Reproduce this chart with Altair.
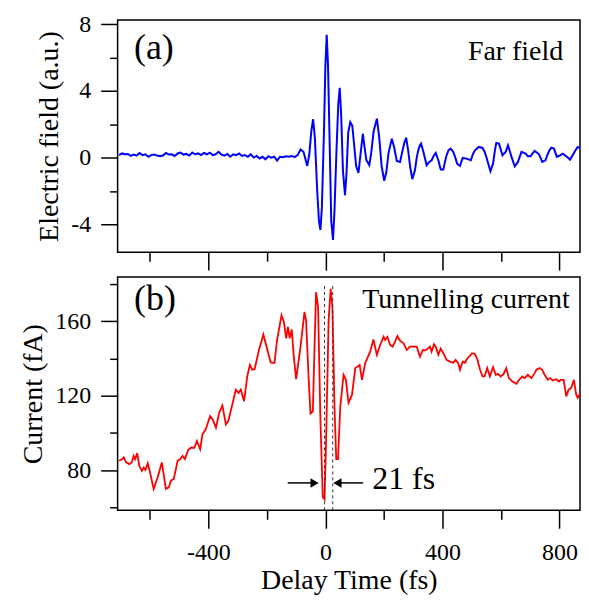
import altair as alt
import pandas as pd

# ---------------- data ----------------
field_t = [-705, -695, -685, -675, -665, -655, -645, -635, -625, -615, -605, -595, -585, -575,
           -565, -555, -545, -535, -525, -515, -505, -495, -485, -475, -465, -455, -445, -435,
           -425, -415, -405, -395, -385, -375, -365, -355, -345, -335, -325, -315, -305, -295,
           -285, -275, -265, -255, -245, -235, -225, -215, -205, -195, -185, -175, -165, -155,
           -145, -135, -125, -115, -105,
           -95, -85, -75, -68, -62, -55, -48, -42, -36, -28, -22, -17, -12, -5, 0, 4.5, 9, 15,
           20, 26, 31, 38, 44, 49, 54, 60, 67, 72, 78, 85, 92, 98, 105, 113, 120, 128, 134, 140,
           144, 150, 156, 165, 176, 184, 192, 201, 208, 216, 227, 235, 244, 255, 262, 270, 276,
           283, 290, 297, 306, 312, 318, 323, 327, 335, 346, 355, 363, 370, 377, 386, 394, 403,
           408, 414, 421, 428, 437, 444, 450, 460, 469, 482, 497, 504, 511, 524, 537, 544, 550,
           557, 564, 573, 579, 584, 593, 599, 605, 616, 624, 630, 636, 647, 658, 664, 670, 684,
           692, 701, 708, 715, 730, 741, 752, 758, 766, 772, 781, 791, 802, 811, 823, 836, 845,
           853, 862, 874, 885, 893]
field_v = [0.15, 0.25, 0.2, 0.22, 0.1, 0.18, 0.12, 0.28, 0.15, 0.2, 0.05, 0.15, 0.18, 0.12,
           0.08, 0.12, 0.28, 0.18, 0.2, 0.1, 0.25, 0.3, 0.18, 0.22, 0.12, 0.3, 0.2, 0.25,
           0.15, 0.28, 0.2, 0.3, 0.15, 0.2, 0.35, 0.18, 0.12, 0.22, 0.05, 0.2, 0.15, 0.25,
           0.1, 0.15, 0.05, 0.2, 0.0, 0.1, -0.05, 0.05, -0.1, 0.08, 0.0, 0.05, -0.18, 0.05,
           0.02, 0.08, 0.05, 0.1, 0.03,
           0.15, 0.48, 0.35, -0.1, -0.5, 0.2, 1.6, 2.3, 1.2, -2.0, -3.8, -4.34, -3.0, 1.5, 5.5, 7.36, 5.5, 0.5,
           -3.8, -4.94, -3.2, 0.5, 3.2, 4.18, 2.5, -0.8, -2.25, -1.0, 1.5, 2.13, 1.9, 0.8, -0.5, -0.92, 0.2, 1.43, 0.6, -0.15,
           -0.26, -0.45, 0.2, 1.6, 2.33, 1.2, -0.5, -1.39, -0.9, 0.3, 1.13, 0.6, -0.2, -0.26, 0.3, 0.9, 1.19,
           0.4, -0.6, -1.29, -0.76, 0.0, 0.48, 0.73, 0.84, 0.34, -0.46, -0.26, -0.16, 0.1, 0.28, -0.16, -0.72, -0.72,
           -0.3, 0.14, 0.45, 0.54, 0.34, 0.0, -0.36, -0.5, -0.02, -0.06, -0.16, 0.2, 0.44, 0.64, 0.58, 0.35, 0.04,
           -0.4, -0.82, -0.36, 0.4, 0.88, 0.84, 0.5, 0.14, 0.34, 0.73, 0.4, 0.04, -0.52, -0.26, 0.05, 0.34, 0.24,
           0.08, 0.08, 0.25, 0.4, 0.2, -0.26, -0.16, 0.14, 0.45, 0.6, 0.54, 0.04, 0.14, 0.24, 0.08, -0.12, 0.14,
           0.4, 0.64, 0.54, 0.44, 0.28]

current_t = [-705, -694, -689, -681, -670, -662, -655, -650, -643, -636, -627, -621, -615, -607,
             -598, -587, -573, -559, -545, -535, -528, -518, -505, -496, -488, -480, -469, -460,
             -448, -439, -428, -420, -409, -394, -385, -374, -363, -352, -340, -332, -321, -306,
             -297, -289, -278, -267, -258, -250, -242, -227, -212, -201, -187, -178, -174, -165,
             -150, -142, -134, -128, -122, -115, -108, -100, -85, -71.5, -66, -57, -51, -43, -32,
             -25, -17, -9, -3, 2, 11, 18, 24, 31, 37, 43, 51, 62, 70, 79, 91, 102, 110, 117, 125,
             136, 153, 164, 176, 187, 199, 204, 212, 221, 230, 238, 246, 255, 267, 278, 289, 301,
             312, 323, 333, 341, 348, 357, 363, 371, 377, 386, 394, 403, 414, 426, 437, 445, 454,
             460, 469, 477, 485, 494, 501, 510, 519, 528, 537, 544, 553, 562, 573, 582, 590, 599,
             609, 618, 627, 639, 653, 662, 673, 681, 692, 704, 715, 721, 732, 741, 749, 760, 768,
             777, 789, 798, 805, 814, 823, 831, 840, 849, 857, 862, 870, 879, 891]
current_v = [85.0, 85.9, 86.8, 84.1, 83.2, 84.1, 87.6, 85.9, 89.1, 82.3, 79.6, 81.3, 80.1, 83.7,
             77.9, 69.9, 76.1, 84.1, 69.9, 70.7, 74.3, 75.2, 85.0, 85.9, 87.6, 85.9, 90.8, 92.0,
             92.0, 95.6, 91.2, 99.2, 101.9, 109.0, 107.2, 102.8, 110.8, 114.7, 104.5, 106.3, 113.4, 123.2,
             121.4, 123.2, 117.0, 130.3, 136.5, 133.9, 134.2, 144.5, 152.9, 146.3, 137.8, 137.6, 137.6, 150.0,
             163.2, 159.6, 150.8, 157.0, 150.8, 155.6, 141.0, 128.9, 146.3, 165.0, 160.2, 128.5, 110.4, 111.6, 175.6,
             167.6, 107.2, 65.4, 64.2, 93.0, 160.5, 177.4, 167.6, 114.3, 85.9, 85.9, 114.3, 131.2, 128.5, 116.1, 120.5, 134.8, 135.6, 136.5, 128.5,
             137.4, 143.6, 150.2, 141.9, 147.2, 151.6, 149.9, 151.6, 147.2, 146.3, 149.0, 152.0, 149.5, 148.1, 144.5, 146.3, 146.3,
             146.3, 141.0, 144.5, 144.3, 145.0, 146.3, 143.6, 147.6, 146.3, 141.9, 145.3, 142.8, 139.2, 138.3, 137.7, 139.2, 137.4,
             133.9, 138.3, 137.7, 140.1, 141.3, 142.8, 142.5, 139.6, 134.2, 130.3, 130.3, 134.8, 130.3, 135.3, 131.2, 131.7, 130.3,
             131.7, 134.8, 129.4, 127.6, 126.4, 128.5, 130.3, 129.4, 131.2, 129.4, 132.1, 133.9, 134.8, 133.9, 131.2, 128.5, 129.4,
             128.1, 128.8, 127.6, 128.5, 128.5, 119.6, 123.2, 124.1, 128.5, 120.5, 118.8, 121.1, 119.6, 119.3]

x_ticks = [-600, -400, -200, 0, 200, 400, 600, 800]
field_ticks = [-4, -2, 0, 2, 4, 6, 8]
current_ticks = [60, 80, 100, 120, 140, 160, 180]

x_domain = [-710, 870]
field_domain = [-5.67, 8.25]
current_domain = [58.4, 183.7]

dash_t = [-3, 25]
dash_top = 180
arrow_y = 73.1
arrow_tail = [-129, 129]
arrow_head = [-37, 41]

FONT = "Liberation Serif"
W = 464


def tick_cond(step, major, minor):
    return {"condition": {"test": f"datum.value % {step} === 0", "value": major}, "value": minor}


def lab_expr(step):
    return f"datum.value % {step} === 0 ? '' + datum.value : ''"


xscale = alt.Scale(domain=x_domain, nice=False, zero=False)
fscale = alt.Scale(domain=field_domain, nice=False, zero=False)
cscale = alt.Scale(domain=current_domain, nice=False, zero=False)

X_TOP = alt.X("t:Q", scale=xscale, title=None,
              axis=alt.Axis(values=x_ticks, labels=False, title=None,
                            tickSize=tick_cond(400, 18, 9)))
X_BOT = alt.X("t:Q", scale=xscale, title="Delay Time (fs)",
              axis=alt.Axis(values=x_ticks, labelExpr=lab_expr(400), title="Delay Time (fs)",
                            tickSize=tick_cond(400, 18, 9), labelPadding=12, titlePadding=2))
Y_TOP = alt.Y("v:Q", scale=fscale, title="Electric field (a.u.)",
              axis=alt.Axis(values=field_ticks, labelExpr=lab_expr(4), title="Electric field (a.u.)",
                            tickSize=tick_cond(4, 17, 8), labelPadding=10, titlePadding=7))
Y_BOT = alt.Y("v:Q", scale=cscale, title="Current (fA)",
              axis=alt.Axis(values=current_ticks, labelExpr=lab_expr(40), title="Current (fA)",
                            tickSize=tick_cond(40, 17, 8), labelPadding=10, titlePadding=7))

field_df = pd.DataFrame({"t": field_t, "v": field_v})
current_df = pd.DataFrame({"t": current_t, "v": current_v})


def txt(t, v, s, size, X, Y):
    df = pd.DataFrame({"t": [t], "v": [v], "s": [s]})
    return alt.Chart(df).mark_text(align="left", baseline="alphabetic", font=FONT,
                                   fontSize=size, color="black").encode(x=X, y=Y, text="s:N")


top_line = alt.Chart(field_df).mark_line(color="#0000ff", strokeWidth=2, clip=True).encode(
    x=X_TOP, y=Y_TOP)
top = alt.layer(
    top_line,
    txt(-654, 5.91, "(a)", 36, X_TOP, Y_TOP),
    txt(487, 5.85, "Far field", 28, X_TOP, Y_TOP),
).properties(width=W, height=233)

bot_line = alt.Chart(current_df).mark_line(color="#ff0000", strokeWidth=1.8, clip=True).encode(
    x=X_BOT, y=Y_BOT)

dash_df = pd.DataFrame({"t": dash_t, "v": [current_domain[0]] * 2, "v2": [dash_top] * 2})
dashes = alt.Chart(dash_df).mark_rule(color="#333333", strokeDash=[3, 3], strokeWidth=1).encode(
    x=X_BOT, y=Y_BOT, y2="v2:Q")

shaft_df = pd.DataFrame({"t": arrow_tail, "t2": arrow_head, "v": [arrow_y] * 2})
shafts = alt.Chart(shaft_df).mark_rule(color="black", strokeWidth=1.5).encode(
    x=X_BOT, x2="t2:Q", y=Y_BOT)

head_l = alt.Chart(pd.DataFrame({"t": [arrow_head[0]], "v": [arrow_y]})).mark_point(
    shape="triangle-right", filled=True, color="black", size=90, opacity=1).encode(x=X_BOT, y=Y_BOT)
head_r = alt.Chart(pd.DataFrame({"t": [arrow_head[1]], "v": [arrow_y]})).mark_point(
    shape="triangle-left", filled=True, color="black", size=90, opacity=1).encode(x=X_BOT, y=Y_BOT)

bot = alt.layer(
    bot_line, dashes, shafts, head_l, head_r,
    txt(-654, 165.9, "(b)", 36, X_BOT, Y_BOT),
    txt(126, 167.3, "Tunnelling current", 28, X_BOT, Y_BOT),
    txt(160, 69.9, "21 fs", 32, X_BOT, Y_BOT),
).properties(width=W, height=234)

chart = alt.vconcat(top, bot, spacing=4).properties(
    padding={"left": 11, "top": 2, "right": 0, "bottom": 0},
    background="white",
).configure_view(
    stroke="black", strokeWidth=1.5
).configure_axis(
    grid=False, domain=False, tickColor="black", tickWidth=1.5,
    labelFont=FONT, labelFontSize=24, labelColor="black",
    titleFont=FONT, titleFontSize=28, titleFontWeight="normal", titleColor="black",
)

chart.save("out.html", embed_options={"renderer": "svg", "actions": False})
